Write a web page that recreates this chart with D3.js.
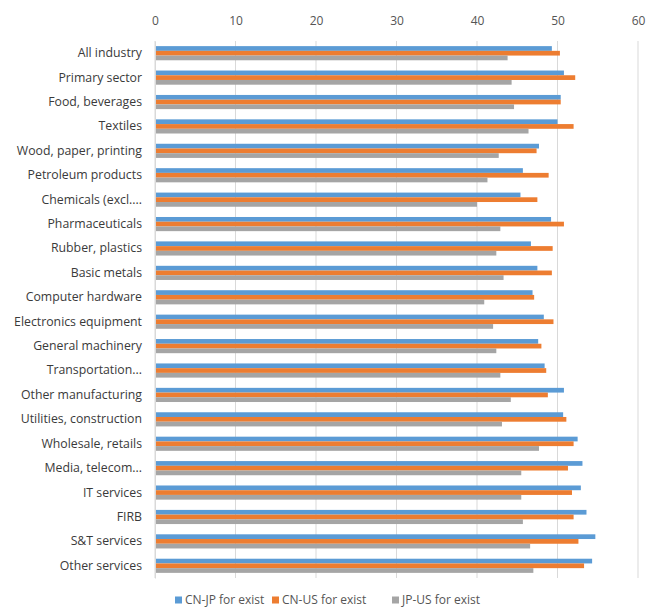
<!DOCTYPE html>
<html>
<head>
<meta charset="utf-8">
<script src="https://cdn.jsdelivr.net/npm/d3@7"></script>
<style>
  html, body { margin: 0; padding: 0; background: #fff; }
  svg { display: block; font-family: "Open Sans", "Liberation Sans", sans-serif; }
</style>
</head>
<body>
<svg id="chart" width="646" height="609"></svg>
<script>
// Industry categories, top to bottom
const categories = [
  "All industry", "Primary sector", "Food, beverages", "Textiles",
  "Wood, paper, printing", "Petroleum products", "Chemicals (excl....",
  "Pharmaceuticals", "Rubber, plastics", "Basic metals", "Computer hardware",
  "Electronics equipment", "General machinery", "Transportation...",
  "Other manufacturing", "Utilities, construction", "Wholesale, retails",
  "Media, telecom...", "IT services", "FIRB", "S&T services", "Other services"
];

const seriesNames = ["CN-JP for exist", "CN-US for exist", "JP-US for exist"];

const cnJp = [49.3, 50.8, 50.4, 50.0, 47.7, 45.7, 45.4, 49.2, 46.7, 47.5, 46.9,
              48.3, 47.6, 48.4, 50.8, 50.7, 52.5, 53.1, 52.9, 53.6, 54.7, 54.3];
const cnUs = [50.3, 52.2, 50.4, 52.0, 47.4, 48.9, 47.5, 50.8, 49.4, 49.3, 47.1,
              49.5, 48.0, 48.6, 48.8, 51.1, 52.0, 51.3, 51.8, 52.0, 52.6, 53.3];
const jpUs = [43.8, 44.3, 44.6, 46.4, 42.7, 41.3, 40.0, 42.9, 42.4, 43.3, 40.9,
              42.0, 42.4, 42.9, 44.2, 43.1, 47.7, 45.5, 45.5, 45.7, 46.6, 47.0];

const tickValues = [0, 10, 20, 30, 40, 50, 60];
const colors = ["#5B9BD5", "#ED7D31", "#A5A5A5"];

const series = [cnJp, cnUs, jpUs];

const svg = d3.select("#chart");
const margin = { top: 41, left: 155 };

const x = d3.scaleLinear().domain([0, 60]).range([margin.left, 638]);
const y = d3.scaleBand().domain(categories)
  .range([margin.top, 578]).paddingInner(0.42).paddingOuter(0.21);
const ySub = d3.scaleBand().domain(d3.range(series.length))
  .range([0, y.bandwidth()]);

// vertical gridlines
svg.append("g")
  .selectAll("line")
  .data(tickValues)
  .join("line")
  .attr("x1", d => x(d)).attr("x2", d => x(d))
  .attr("y1", margin.top).attr("y2", 578)
  .attr("stroke", "#d9d9d9").attr("stroke-width", 1);

// top value axis labels
const xAxis = d3.axisTop(x).tickValues(tickValues).tickSize(0).tickPadding(0);
const gx = svg.append("g").attr("transform", `translate(0,25)`).call(xAxis);
gx.select(".domain").remove();
gx.selectAll("text")
  .attr("fill", "#555")
  .style("font-size", "12px")
  .style("font-family", "'Open Sans', sans-serif");

// bars
const groups = svg.append("g")
  .selectAll("g")
  .data(categories)
  .join("g")
  .attr("transform", d => `translate(0,${y(d)})`);

groups.selectAll("rect")
  .data((d, i) => series.map((s, k) => ({ k, v: s[i] })))
  .join("rect")
  .attr("x", x(0))
  .attr("y", d => ySub(d.k))
  .attr("width", d => x(d.v) - x(0))
  .attr("height", ySub.bandwidth())
  .attr("fill", d => colors[d.k]);

// category axis
const yAxis = d3.axisLeft(y).tickSize(0).tickPadding(13);
const gy = svg.append("g").attr("transform", `translate(${margin.left},0)`).call(yAxis);
gy.select(".domain").attr("stroke", "#d9d9d9");
gy.selectAll("text")
  .attr("fill", "#3a3a3a")
  .style("font-size", "12.3px")
  .style("font-family", "'Open Sans', sans-serif");

// legend
const legendItems = [
  { name: seriesNames[0], x: 175 },
  { name: seriesNames[1], x: 272 },
  { name: seriesNames[2], x: 392 }
];
const lg = svg.append("g").attr("transform", "translate(0,600)");
legendItems.forEach((it, i) => {
  lg.append("rect").attr("x", it.x).attr("y", -3.5).attr("width", 7).attr("height", 7)
    .attr("fill", colors[i]);
  lg.append("text").attr("x", it.x + 10).attr("y", 0).attr("dy", "0.35em")
    .attr("fill", "#555")
    .style("font-size", "12px")
    .text(it.name);
});
</script>
</body>
</html>
